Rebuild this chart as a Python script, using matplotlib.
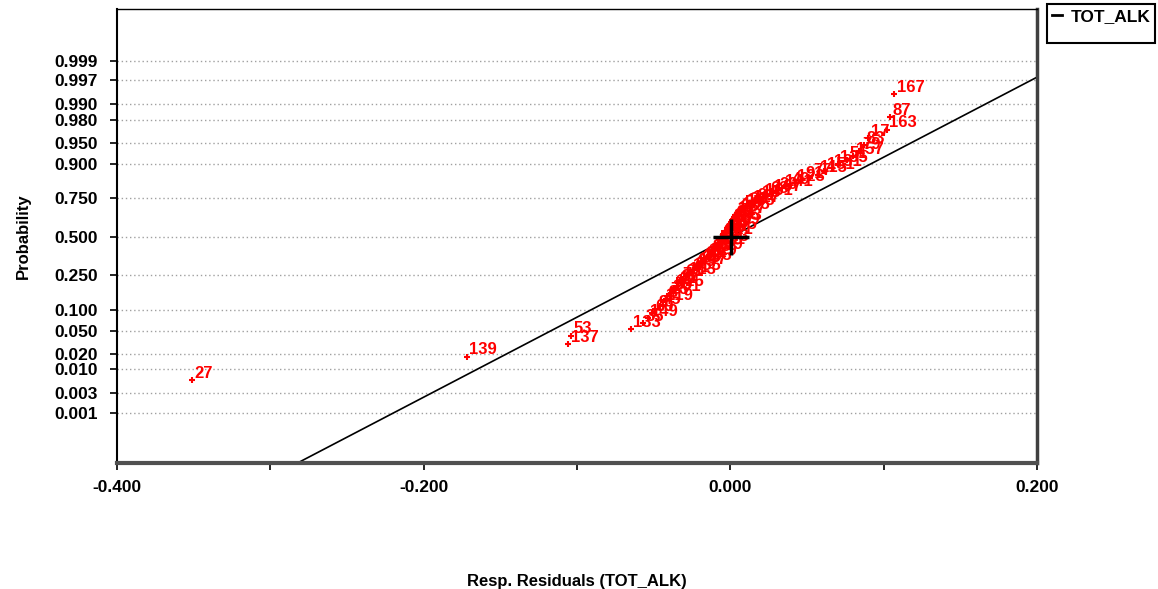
import matplotlib
matplotlib.use("Agg")
import matplotlib.pyplot as plt
from matplotlib.lines import Line2D
from statistics import NormalDist

# observation ids in rank order (smallest residual first)
obs_ids = [27, 139, 137, 53, 133, 35, 149, 69, 9, 45,
           119, 3, 75, 101, 59, 125, 21, 97, 7, 61,
           113, 41, 155, 1, 89, 147, 33, 105, 67, 11,
           129, 47, 93, 159, 25, 73, 111, 5, 143, 57,
           99, 37, 121, 65, 19, 145, 85, 31, 109, 13,
           153, 43, 95, 71, 127, 23, 165, 55, 103, 39,
           117, 81, 15, 161, 63, 107, 29, 141, 49, 123,
           91, 77, 115, 151, 131, 135, 51, 157, 79, 83,
           17, 163, 87, 167]

# residuals, sorted
residuals = [-0.351, -0.172, -0.106, -0.104, -0.065, -0.057, -0.054, -0.051, -0.049, -0.046,
             -0.044, -0.042, -0.041, -0.039, -0.038, -0.037, -0.035, -0.034, -0.033, -0.031,
             -0.029, -0.027, -0.026, -0.024, -0.023, -0.022, -0.020, -0.019, -0.018, -0.016,
             -0.0155, -0.014, -0.0135, -0.012, -0.0115, -0.010, -0.0095, -0.009, -0.008, -0.007,
             -0.0065, -0.006, -0.005, -0.0045, -0.003, -0.0025, -0.002, -0.001, -0.0005, 0.000,
             0.0007, 0.0013, 0.002, 0.0026, 0.003, 0.0046, 0.006, 0.0075, 0.009, 0.011,
             0.013, 0.016, 0.019, 0.021, 0.024, 0.027, 0.030, 0.034, 0.038, 0.042,
             0.047, 0.052, 0.057, 0.061, 0.066, 0.070, 0.076, 0.080, 0.084, 0.087,
             0.090, 0.102, 0.104, 0.107]

# fitted normal line
line_mean = 0.0004
line_sd = 0.0712

prob_ticks = [0.001, 0.003, 0.010, 0.020, 0.050, 0.100, 0.250, 0.500,
              0.750, 0.900, 0.950, 0.980, 0.990, 0.997, 0.999]
x_ticks = [-0.4, -0.2, 0.0, 0.2]
x_minor = [-0.3, -0.1, 0.1]

plt.rcParams['font.family'] = ['Liberation Sans', 'DejaVu Sans']
plt.rcParams['font.weight'] = 'bold'

nd = NormalDist()
n = len(residuals)
z = [nd.inv_cdf((i + 0.5) / n) for i in range(n)]

fig = plt.figure(figsize=(11.58, 5.89), dpi=100)
ax = fig.add_axes([0.1010, 0.2139, 0.7945, 0.7708])

# grid lines
for p in prob_ticks:
    ax.axhline(nd.inv_cdf(p), color='#a0a0a0', lw=1, ls=(0, (1, 2)), zorder=0)

# normal line
xl = [-0.4, 0.2]
zl = [(v - line_mean) / line_sd for v in xl]
ax.plot(xl, zl, color='black', lw=1.2, zorder=2)

# points with labels
ax.plot(residuals, z, ls='none', marker='+', ms=5, mew=1.5, color='red', zorder=3)
for xv, zv, lab in zip(residuals, z, obs_ids):
    ax.annotate(str(lab), (xv, zv), xytext=(2, 1.5), textcoords='offset points',
                color='red', fontsize=12, fontweight='bold', va='baseline', ha='left',
                zorder=4)

# mean cross
ax.plot([line_mean], [0], marker='+', ms=26, mew=2.5, color='black', zorder=5)

ax.set_xlim(-0.4, 0.2)
ax.set_ylim(-3.97, 4.0)
ax.set_xticks(x_ticks)
ax.set_xticklabels(['%.3f' % v for v in x_ticks])
ax.set_xticks(x_minor, minor=True)
ax.set_yticks([nd.inv_cdf(p) for p in prob_ticks])
ax.set_yticklabels(['%.3f' % p for p in prob_ticks])
ax.tick_params(axis='both', which='both', direction='out', length=5, width=1.2,
               labelsize=12.5)
ax.tick_params(axis='y', pad=9)
ax.tick_params(axis='x', pad=7)

ax.spines['left'].set_linewidth(1.5)
ax.spines['top'].set_linewidth(1.0)
ax.spines['right'].set_linewidth(2.5)
ax.spines['right'].set_color('#404040')
ax.spines['bottom'].set_linewidth(3)
ax.spines['bottom'].set_color('#505050')

ax.set_ylabel('Probability', fontsize=12, fontweight='bold')
ax.yaxis.set_label_coords(-0.0935, 0.5)
ax.set_xlabel('Resp. Residuals (TOT_ALK)', fontsize=12, fontweight='bold')
ax.xaxis.set_label_coords(0.5, -0.245)

handles = [Line2D([], [], color='black', lw=2),
           Line2D([], [], color='none')]
leg = fig.legend(handles, ['TOT_ALK', ' '], loc='upper right',
                 bbox_to_anchor=(0.9975, 0.993), fancybox=False, framealpha=1,
                 edgecolor='black', fontsize=12.5, handlelength=0.6, handletextpad=0.5,
                 borderpad=0.25, labelspacing=0.1, borderaxespad=0)
leg.get_frame().set_linewidth(1.5)
for t in leg.get_texts():
    t.set_fontweight('bold')
leg.get_texts()[1].set_fontsize(4)

fig.savefig('out.png', dpi=100)
